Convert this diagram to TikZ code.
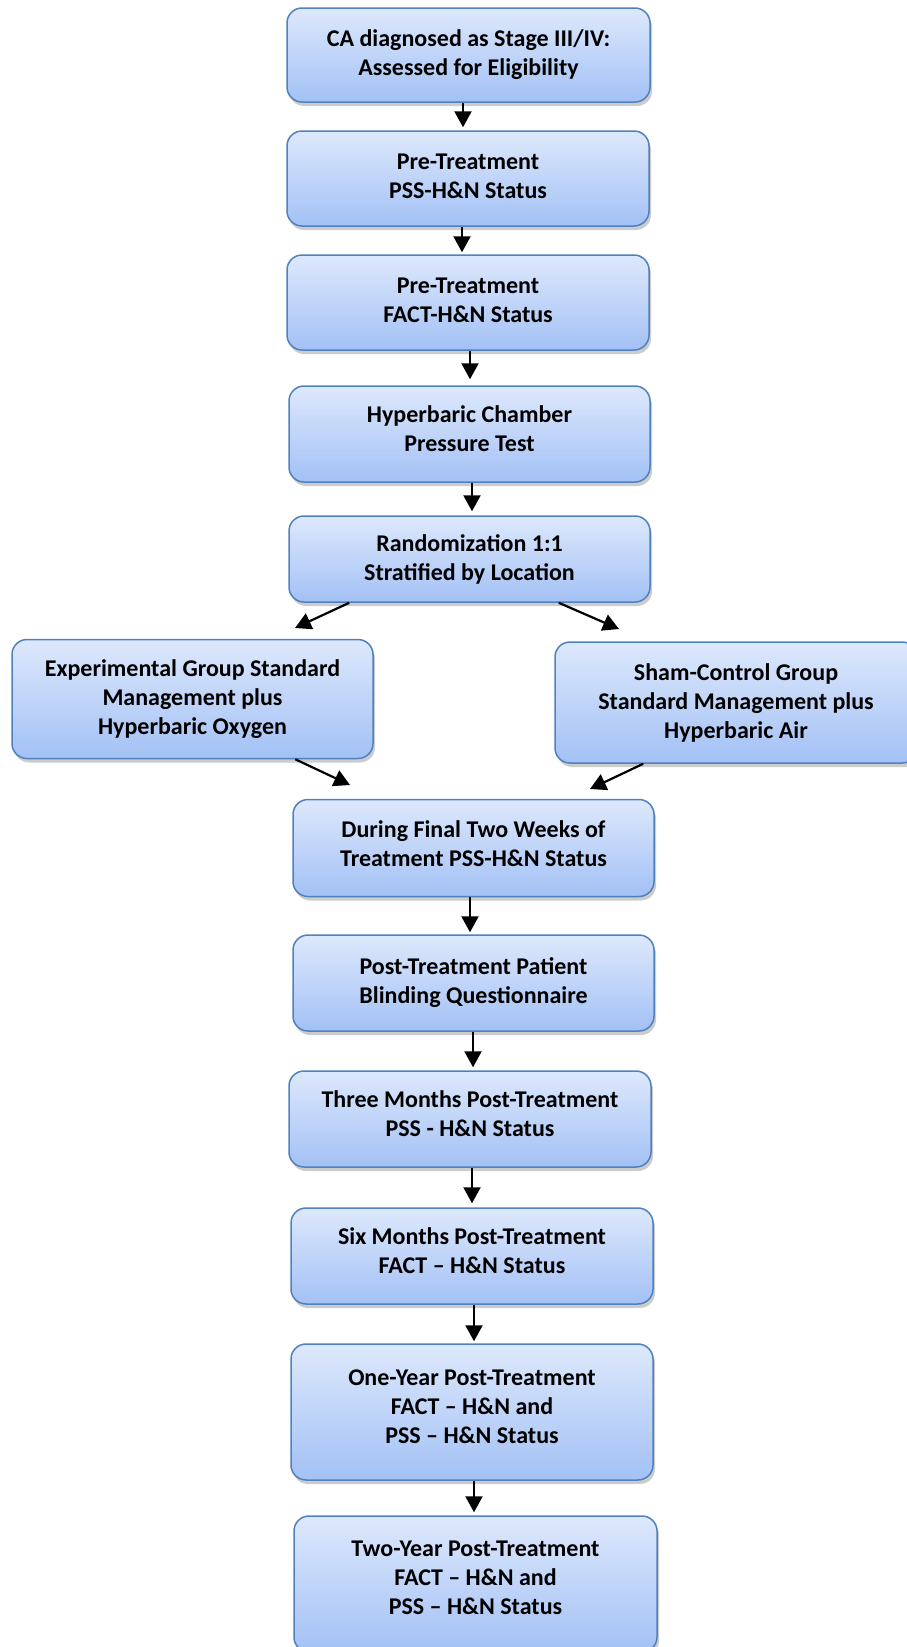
\documentclass[tikz,border=0pt]{standalone}
\usepackage{fontspec}
\setmainfont{Carlito}
\usetikzlibrary{arrows.meta,shadows}
\definecolor{topc}{HTML}{DDE8FC}
\definecolor{botc}{HTML}{A3C1F5}
\definecolor{edgec}{HTML}{4F81BD}
\tikzset{
  box/.style={rounded corners=15pt, draw=edgec, line width=1.5pt,
    top color=topc, bottom color=botc,
    drop shadow={shadow xshift=2pt,shadow yshift=-4pt,fill=black!40},
    align=center, inner sep=0pt,
    font=\bfseries\fontsize{24}{29}\selectfont},
  arr/.style={line width=2.2pt, -{Triangle[width=17pt,length=16pt]}}
}
\begin{document}
\begin{tikzpicture}[x=1pt,y=-1pt]
\useasboundingbox (0,0) rectangle (907,1647);
\node[box, minimum width=363pt, minimum height=94pt] (b1) at (468.5,55) {CA diagnosed as Stage III/IV:\\Assessed for Eligibility};
\node[box, minimum width=362pt, minimum height=95pt, text depth=4pt] (b2) at (468,178.5) {Pre-Treatment\\PSS-H\&N Status};
\node[box, minimum width=362pt, minimum height=95pt, text depth=4pt] (b3) at (468,302.5) {Pre-Treatment\\FACT-H\&N Status};
\node[box, minimum width=361pt, minimum height=96pt, text depth=10pt] (b4) at (469.5,434) {Hyperbaric Chamber\\Pressure Test};
\node[box, minimum width=361pt, minimum height=86pt] (b5) at (469.5,559) {Randomization 1:1\\Stratified by Location};
\node[box, minimum width=361pt, minimum height=119pt] (lb) at (192.5,699) {Experimental Group Standard\\Management plus\\Hyperbaric Oxygen};
\node[box, minimum width=362pt, minimum height=121pt] (rb) at (736,702.5) {Sham-Control Group\\Standard Management plus\\Hyperbaric Air};
\node[box, minimum width=361pt, minimum height=97pt, text depth=8pt] (b6) at (473.5,848) {During Final Two Weeks of\\Treatment PSS-H\&N Status};
\node[box, minimum width=361pt, minimum height=96pt] (b7) at (473.5,983) {Post-Treatment Patient\\Blinding Questionnaire};
\node[box, minimum width=362pt, minimum height=96pt, text depth=10pt] (b8) at (470,1119) {Three Months Post-Treatment\\PSS - H\&N Status};
\node[box, minimum width=362pt, minimum height=96pt, text depth=10pt] (b9) at (472,1256) {Six Months Post-Treatment\\FACT -- H\&N Status};
\node[box, minimum width=362pt, minimum height=136pt, text depth=10pt] (b10) at (472,1412) {One-Year Post-Treatment\\FACT -- H\&N and\\PSS -- H\&N Status};
\node[box, minimum width=363pt, minimum height=136pt, text depth=12pt] (b11) at (475.5,1584) {Two-Year Post-Treatment\\FACT -- H\&N and\\PSS -- H\&N Status};
\coordinate (tl) at (295,628);
\coordinate (tr) at (619,629);
\coordinate (fl) at (350,785);
\coordinate (fr) at (590,789);
\draw[arr] ([xshift=-5.5pt]b1.south) -- ([xshift=-5pt,yshift=3pt]b2.north);
\draw[arr] ([xshift=-6pt]b2.south) -- ([xshift=-6pt,yshift=2pt]b3.north);
\draw[arr] ([xshift=2pt]b3.south) -- ([xshift=0.5pt,yshift=6pt]b4.north);
\draw[arr] ([xshift=2.5pt]b4.south) -- ([xshift=2.5pt,yshift=4pt]b5.north);
\draw[arr] ([xshift=61pt]b5.south west) -- (tl);
\draw[arr] ([xshift=-92pt]b5.south east) -- (tr);
\draw[arr] ([xshift=284pt]lb.south west) -- (fl);
\draw[arr] ([xshift=89pt]rb.south west) -- (fr);
\draw[arr] ([xshift=-3.5pt]b6.south) -- ([xshift=-3.5pt,yshift=2pt]b7.north);
\draw[arr] ([xshift=-0.5pt]b7.south) -- ([xshift=3pt,yshift=3pt]b8.north);
\draw[arr] ([xshift=2pt]b8.south) -- ([xshift=0pt,yshift=4pt]b9.north);
\draw[arr] ([xshift=2pt]b9.south) -- ([xshift=2pt,yshift=2pt]b10.north);
\draw[arr] ([xshift=2pt]b10.south) -- ([xshift=-1.5pt,yshift=3pt]b11.north);
\end{tikzpicture}
\end{document}
